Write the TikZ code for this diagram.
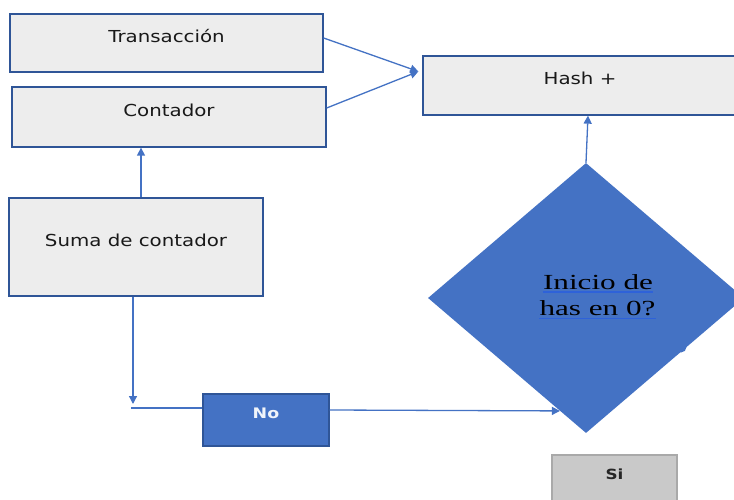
\documentclass[tikz,border=0pt]{standalone}
\usepackage{fontspec}
\usetikzlibrary{arrows.meta,shapes.geometric}

\newfontfamily\boxfont{DejaVu Sans}[FakeStretch=1.2]
\newfontfamily\qfont{Liberation Serif}[FakeStretch=1.45]

\definecolor{lineblue}{HTML}{4472C4}
\definecolor{edgeblue}{HTML}{2F5597}
\definecolor{boxgray}{HTML}{EDEDED}
\definecolor{sigray}{HTML}{C9C9C9}
\definecolor{siedge}{HTML}{A9A9A9}
\definecolor{ulblue}{HTML}{2E62D9}

% box labels sit a little above the middle of their boxes
\newcommand\liftup[1]{\raisebox{7pt}[\height][\depth]{#1}}

\tikzset{
  procbox/.style={draw=edgeblue, line width=1.3pt, fill=boxgray, inner sep=0pt,
    font=\boxfont\fontsize{16.5}{19}\selectfont, text=black!90},
  nobox/.style={draw=edgeblue, line width=1.2pt, fill=lineblue, inner sep=0pt,
    font=\boxfont\bfseries\fontsize{14.5}{17}\selectfont, text=white!92!lineblue},
  sibox/.style={draw=siedge, line width=1.2pt, fill=sigray, inner sep=0pt,
    font=\boxfont\bfseries\fontsize{14}{17}\selectfont, text=black!85},
  decision/.style={diamond, fill=lineblue, inner sep=0pt},
  qtext/.style={font=\qfont\fontsize{21.5}{26}\selectfont, inner sep=0pt,
    anchor=base, text=black},
  uline/.style={draw=ulblue, line width=1.6pt},
  conn/.style={draw=lineblue, line width=1.3pt},
  arr/.style={conn, -{Triangle[length=8pt,width=8pt]}},
}

\begin{document}
\begin{tikzpicture}[x=1pt,y=-1pt]
\clip (0,0) rectangle (734,500);
\fill[white] (0,0) rectangle (734,500);

% process boxes
\node[procbox, minimum width=313pt, minimum height=58pt] (tr) at (166.5,43) {\liftup{Transacción}};
\node[procbox, minimum width=314pt, minimum height=60pt] (co) at (169,117) {\liftup{Contador}};
\node[procbox, minimum width=314pt, minimum height=59pt] (hash) at (580,85.5) {\liftup{Hash +}};
\node[procbox, minimum width=254pt, minimum height=98pt] (su) at (136,247) {\liftup{Suma de contador}};

% answer boxes
\node[nobox, minimum width=126pt, minimum height=52pt] (no) at (266,420) {\liftup{No}};
\node[sibox, minimum width=125pt, minimum height=52pt] (si) at (614.5,481) {\liftup{Si}};

% decision
\node[decision, minimum width=316pt, minimum height=270pt] (dia) at (586,298) {};
\fill[lineblue] (681,347) circle (5.5pt);
\node[qtext] (q1) at (598,289) {Inicio de};
\node[qtext] (q2) at (597.5,315.5) {has en 0?};
\draw[uline] ([yshift=-3pt]q1.base west) -- ([yshift=-3pt]q1.base east);
\draw[uline] ([yshift=-3pt]q2.base west) -- ([yshift=-3pt]q2.base east);

% free ends of the loop back line
\coordinate (drop) at (133,404);
\coordinate (corner) at (131,408);
\coordinate (hashin) at ([xshift=-4pt,yshift=14pt]hash.west);

% connectors
\draw[arr] ([yshift=5pt]tr.east) -- (hashin);
\draw[arr] ([yshift=9pt]co.east) -- (hashin);
\draw[arr] ([xshift=5pt]su.north) -- ([xshift=5pt]su.north |- co.south);
\draw[arr] (su.south -| drop) -- (drop);
\draw[conn] (corner) -- (corner -| no.west);
\draw[arr] ([yshift=10pt]no.east) -- (dia.257);
\draw[arr] (dia.north) -- ([xshift=2pt]dia.north |- hash.south);
\end{tikzpicture}
\end{document}
